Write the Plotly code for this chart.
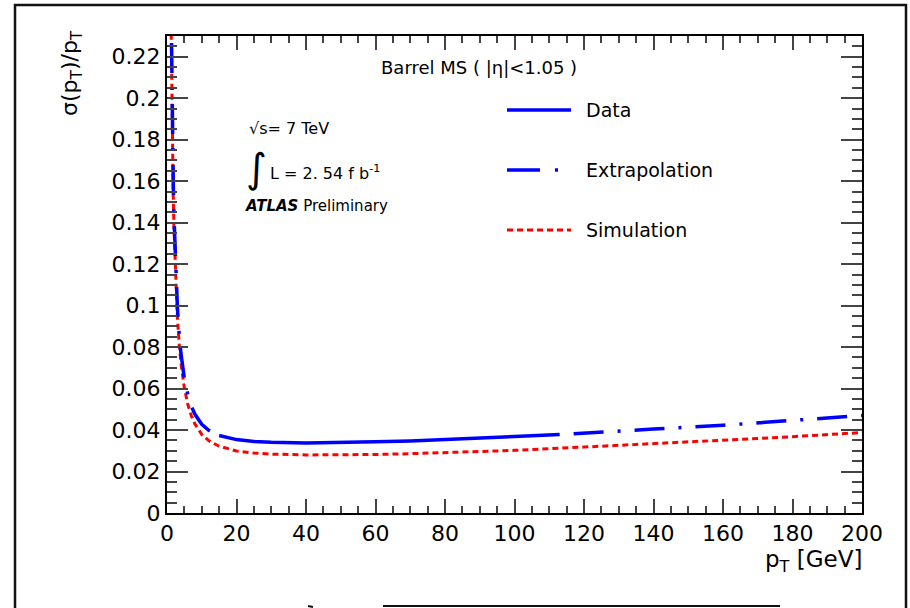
import plotly.graph_objects as go

# ---- data ----
pt_ext_lo = [1.1, 1.2, 1.4, 1.6, 1.8, 2.0, 2.5, 3, 3.5, 4, 5, 6, 7, 8, 10, 12, 15]
res_ext_lo = [0.256, 0.235, 0.2026, 0.178, 0.159, 0.1437, 0.1166, 0.0988, 0.0863, 0.0771,
              0.0647, 0.0571, 0.0516, 0.0477, 0.0428, 0.0399, 0.0374]

pt_data = [15, 20, 25, 30, 40, 50, 60, 70, 80, 90, 100, 113]
res_data = [0.0374, 0.0354, 0.0345, 0.0341, 0.0338, 0.0339, 0.0343, 0.0347, 0.0353,
            0.0360, 0.0369, 0.0378]

pt_ext_hi = [113, 120, 140, 160, 180, 200]
res_ext_hi = [0.0378, 0.0386, 0.0405, 0.0423, 0.0445, 0.0470]

pt_sim = [1.1, 1.2, 1.4, 1.6, 1.8, 2.0, 2.5, 3, 3.5, 4, 5, 6, 7, 8, 10, 12, 15, 20, 25, 30,
          40, 50, 60, 70, 80, 90, 100, 120, 140, 160, 180, 200]
res_sim = [0.2455, 0.2266, 0.1947, 0.1708, 0.1523, 0.1376, 0.1112, 0.0938, 0.0816, 0.0726,
           0.0602, 0.0523, 0.0469, 0.0430, 0.0379, 0.0349, 0.0322, 0.0299, 0.0289, 0.0284,
           0.0280, 0.0280, 0.0282, 0.0286, 0.0291, 0.0296, 0.0302, 0.0318, 0.0334, 0.0350,
           0.0368, 0.0388]

legend_labels = ["Data", "Extrapolation", "Simulation"]

BLUE = "#0000ff"
RED = "#ff0000"
DASHDOT = "30px,14px,3px,14px"
DASHDOT_HI = "0px,14px,30px,14px,3px,0px"
DOTTED = "6px,4px"
FONT = "DejaVu Sans"

W, H = 910, 608
L, R, T, B = 167, 862, 36, 513


def px(x):
    return (x - L) / (R - L)


def py(y):
    return (B - y) / (B - T)


fig = go.Figure()
fig.add_trace(go.Scatter(x=pt_sim, y=res_sim, mode="lines",
                         line=dict(color=RED, width=3, dash=DOTTED), showlegend=False))
fig.add_trace(go.Scatter(x=pt_ext_lo, y=res_ext_lo, mode="lines",
                         line=dict(color=BLUE, width=3.5, dash=DASHDOT), showlegend=False))
fig.add_trace(go.Scatter(x=pt_data, y=res_data, mode="lines",
                         line=dict(color=BLUE, width=3.5), showlegend=False))
fig.add_trace(go.Scatter(x=pt_ext_hi, y=res_ext_hi, mode="lines",
                         line=dict(color=BLUE, width=3.5, dash=DASHDOT_HI), showlegend=False))

axis_common = dict(showline=True, linecolor="black", linewidth=2, mirror="allticks",
                   ticks="inside", tickcolor="#444", tickwidth=1.5, showgrid=False,
                   zeroline=False, tickfont=dict(family=FONT, size=22, color="black"))

fig.update_xaxes(range=[0, 200], dtick=20, tick0=0, ticklen=14,
                 minor=dict(dtick=5, ticklen=7, ticks="inside", tickcolor="#444", showgrid=False),
                 **axis_common)
fig.update_yaxes(range=[0, 0.23], dtick=0.02, tick0=0, ticklen=21,
                 minor=dict(dtick=0.005, ticklen=10, ticks="inside", tickcolor="#444", showgrid=False),
                 **axis_common)

shapes = []
# outer frame
shapes.append(dict(type="rect", xref="paper", yref="paper", x0=px(15), x1=px(906),
                   y0=py(640), y1=py(5), line=dict(color="#111", width=2.5)))
# cut-off line at the bottom
shapes.append(dict(type="line", xref="paper", yref="paper", x0=px(383), x1=px(780),
                   y0=py(606), y1=py(606), line=dict(color="#111", width=2)))
shapes.append(dict(type="line", xref="paper", yref="paper", x0=px(308), x1=px(313),
                   y0=py(606), y1=py(607), line=dict(color="#111", width=2)))
# legend samples
shapes.append(dict(type="line", xref="paper", yref="paper", x0=px(507), x1=px(571),
                   y0=py(110), y1=py(110), line=dict(color=BLUE, width=3.5)))
shapes.append(dict(type="line", xref="paper", yref="paper", x0=px(507), x1=px(558),
                   y0=py(170), y1=py(170), line=dict(color=BLUE, width=3.5, dash="33px,15px,3px,30px")))
shapes.append(dict(type="line", xref="paper", yref="paper", x0=px(507), x1=px(571),
                   y0=py(230), y1=py(230), line=dict(color=RED, width=3, dash=DOTTED)))

annotations = []


def ann(text, x, y, size, xanchor="left", yanchor="middle", angle=0):
    annotations.append(dict(text=text, x=px(x), y=py(y), xref="paper", yref="paper",
                            xanchor=xanchor, yanchor=yanchor, showarrow=False, textangle=angle,
                            font=dict(family=FONT, size=size, color="black")))


ann("Barrel MS ( |η|<1.05 )", 379, 68, 18)
for lab, yy in zip(legend_labels, [110, 170, 230]):
    ann(lab, 584, yy, 19)
ann("√s= 7 TeV", 247, 128, 16)
ann("∫", 244, 168, 40)
ann("L = 2. 54 f b<sup>-1</sup>", 268, 172, 16)
ann("<b><i>ATLAS</i></b> Preliminary", 243, 206, 15)
ann("p<sub>T</sub> [GeV]", 864, 561, 23, xanchor="right")
ann("σ(p<sub>T</sub>)/p<sub>T</sub>", 72, 28, 22, xanchor="center", yanchor="top", angle=-90)

fig.update_layout(width=W, height=H, margin=dict(l=L, r=W - R, t=T, b=H - B, autoexpand=False),
                  paper_bgcolor="white", plot_bgcolor="white", shapes=shapes,
                  annotations=annotations, showlegend=False)

fig.write_html("out.html")
